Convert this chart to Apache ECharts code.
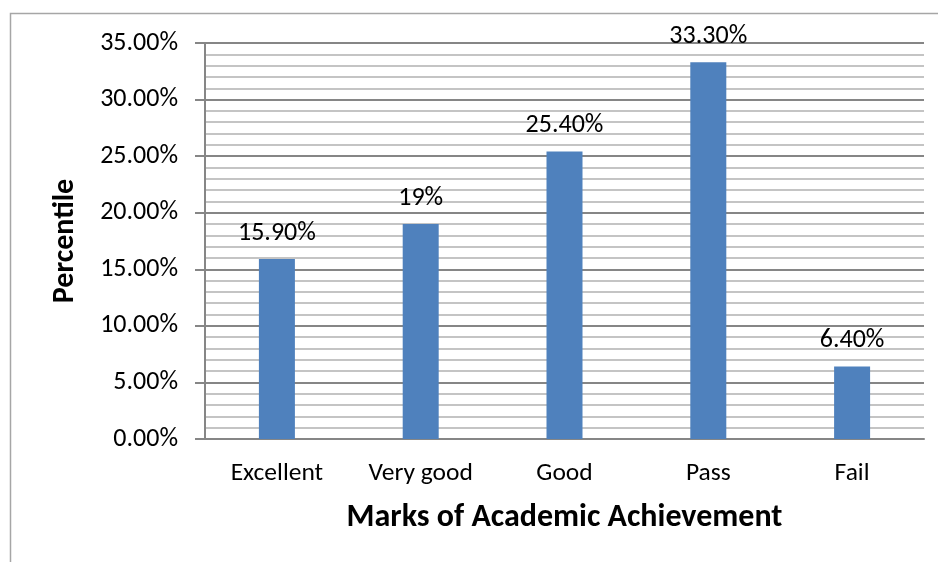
<!DOCTYPE html>
<html><head><meta charset="utf-8">
<script src="https://cdn.jsdelivr.net/npm/echarts@6/dist/echarts.min.js"></script>
<style>html,body{margin:0;padding:0;background:#fff}#c{width:938px;height:562px}</style>
</head><body><div id="c"></div>
<script>
const categories = ['Excellent', 'Very good', 'Good', 'Pass', 'Fail'];
const values = [15.9, 19, 25.4, 33.3, 6.4];
const valueLabels = ['15.90%', '19%', '25.40%', '33.30%', '6.40%'];
const xAxisTitle = 'Marks of Academic Achievement';
const yAxisTitle = 'Percentile';

const FONT = 'Carlito, Lato, "Open Sans", sans-serif';
const chart = echarts.init(document.getElementById('c'));
chart.setOption({
  animation: false,
  textStyle: { fontFamily: FONT },
  graphic: [{ type: 'rect', shape: { x: 10.5, y: 13.5, width: 1000, height: 1000 },
    style: { fill: 'none', stroke: '#a6a6a6', lineWidth: 1.5 }, z: -1 }],
  grid: { left: 205, right: 14, top: 43, bottom: 123 },
  xAxis: {
    type: 'category', data: categories,
    axisLine: { lineStyle: { color: '#868686', width: 2 } },
    axisTick: { show: false },
    axisLabel: { color: '#000', fontSize: 25.5, margin: 22, fontFamily: FONT },
    name: xAxisTitle, nameLocation: 'middle', nameGap: 63,
    nameTextStyle: { color: '#000', fontSize: 32, fontWeight: 'bold', fontFamily: FONT }
  },
  yAxis: {
    type: 'value', min: 0, max: 35, interval: 5,
    axisLine: { show: true, lineStyle: { color: '#868686', width: 2 } },
    axisTick: { show: true, length: 10, lineStyle: { color: '#868686', width: 2 } },
    axisLabel: { color: '#000', fontSize: 26, margin: 27, fontFamily: FONT,
      formatter: v => v.toFixed(2) + '%' },
    splitLine: { show: true, lineStyle: { color: '#868686', width: 2 } },
    minorTick: { show: false, splitNumber: 5 },
    minorSplitLine: { show: true, lineStyle: { color: '#c4c4c4', width: 2 } },
    name: yAxisTitle, nameLocation: 'middle', nameGap: 125,
    nameTextStyle: { color: '#000', fontSize: 30, fontWeight: 'bold', fontFamily: FONT }
  },
  series: [{
    type: 'bar', data: values, barWidth: 36,
    itemStyle: { color: '#4f81bd' },
    label: { show: true, position: 'top', distance: 13, color: '#000', fontSize: 26, fontFamily: FONT,
      formatter: p => valueLabels[p.dataIndex] }
  }]
});
</script></body></html>
